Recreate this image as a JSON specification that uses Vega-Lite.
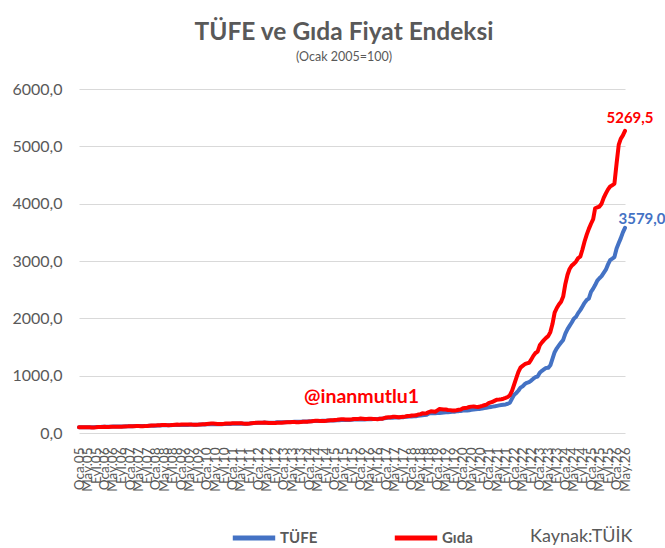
{
  "$schema": "https://vega.github.io/schema/vega-lite/v6.json",
  "description": "TÜFE ve Gıda fiyat endeksi, Ocak 2005=100",
  "autosize": "none",
  "padding": {"left": 79, "top": 89, "right": 40, "bottom": 115},
  "width": 546,
  "height": 344,
  "background": "white",
  "title": {
    "text": "TÜFE ve Gıda Fiyat Endeksi",
    "subtitle": "(Ocak 2005=100)",
    "font": "Lato",
    "fontSize": 24.5,
    "fontWeight": "bold",
    "color": "#595959",
    "subtitleFont": "Lato",
    "subtitleFontSize": 12.5,
    "subtitleColor": "#595959",
    "subtitlePadding": 5,
    "anchor": "middle",
    "dx": -8,
    "offset": 17
  },
  "data": {
    "format": {"parse": {"date": "date"}},
    "values": [
      {"date": "2005-01", "TÜFE": 100.0, "Gıda": 100.0},
      {"date": "2005-02", "TÜFE": 100.0, "Gıda": 99.3},
      {"date": "2005-03", "TÜFE": 100.3, "Gıda": 99.0},
      {"date": "2005-04", "TÜFE": 101.0, "Gıda": 100.5},
      {"date": "2005-05", "TÜFE": 101.1, "Gıda": 100.0},
      {"date": "2005-06", "TÜFE": 101.2, "Gıda": 98.6},
      {"date": "2005-07", "TÜFE": 100.6, "Gıda": 96.5},
      {"date": "2005-08", "TÜFE": 101.5, "Gıda": 97.0},
      {"date": "2005-09", "TÜFE": 102.6, "Gıda": 99.0},
      {"date": "2005-10", "TÜFE": 104.4, "Gıda": 103.5},
      {"date": "2005-11", "TÜFE": 105.9, "Gıda": 105.0},
      {"date": "2005-12", "TÜFE": 107.1, "Gıda": 105.5},
      {"date": "2006-01", "TÜFE": 108.0, "Gıda": 107.0},
      {"date": "2006-02", "TÜFE": 108.3, "Gıda": 106.5},
      {"date": "2006-03", "TÜFE": 108.5, "Gıda": 106.0},
      {"date": "2006-04", "TÜFE": 110.0, "Gıda": 108.5},
      {"date": "2006-05", "TÜFE": 111.7, "Gıda": 110.5},
      {"date": "2006-06", "TÜFE": 112.2, "Gıda": 108.8},
      {"date": "2006-07", "TÜFE": 113.3, "Gıda": 107.5},
      {"date": "2006-08", "TÜFE": 112.9, "Gıda": 107.0},
      {"date": "2006-09", "TÜFE": 114.1, "Gıda": 109.5},
      {"date": "2006-10", "TÜFE": 115.5, "Gıda": 113.0},
      {"date": "2006-11", "TÜFE": 117.1, "Gıda": 115.5},
      {"date": "2006-12", "TÜFE": 117.5, "Gıda": 116.0},
      {"date": "2007-01", "TÜFE": 118.6, "Gıda": 117.5},
      {"date": "2007-02", "TÜFE": 119.1, "Gıda": 118.0},
      {"date": "2007-03", "TÜFE": 120.4, "Gıda": 119.0},
      {"date": "2007-04", "TÜFE": 122.3, "Gıda": 121.0},
      {"date": "2007-05", "TÜFE": 122.5, "Gıda": 121.5},
      {"date": "2007-06", "TÜFE": 122.3, "Gıda": 119.5},
      {"date": "2007-07", "TÜFE": 121.3, "Gıda": 118.5},
      {"date": "2007-08", "TÜFE": 121.3, "Gıda": 120.0},
      {"date": "2007-09", "TÜFE": 122.6, "Gıda": 123.0},
      {"date": "2007-10", "TÜFE": 124.8, "Gıda": 126.5},
      {"date": "2007-11", "TÜFE": 126.8, "Gıda": 129.5},
      {"date": "2007-12", "TÜFE": 127.3, "Gıda": 129.9},
      {"date": "2008-01", "TÜFE": 128.4, "Gıda": 133.0},
      {"date": "2008-02", "TÜFE": 129.8, "Gıda": 135.0},
      {"date": "2008-03", "TÜFE": 131.0, "Gıda": 136.5},
      {"date": "2008-04", "TÜFE": 133.1, "Gıda": 140.0},
      {"date": "2008-05", "TÜFE": 135.1, "Gıda": 141.0},
      {"date": "2008-06", "TÜFE": 134.8, "Gıda": 138.5},
      {"date": "2008-07", "TÜFE": 136.6, "Gıda": 137.0},
      {"date": "2008-08", "TÜFE": 136.3, "Gıda": 137.5},
      {"date": "2008-09", "TÜFE": 137.5, "Gıda": 140.5},
      {"date": "2008-10", "TÜFE": 140.2, "Gıda": 144.5},
      {"date": "2008-11", "TÜFE": 141.6, "Gıda": 146.5},
      {"date": "2008-12", "TÜFE": 140.1, "Gıda": 145.5},
      {"date": "2009-01", "TÜFE": 140.4, "Gıda": 147.0},
      {"date": "2009-02", "TÜFE": 140.2, "Gıda": 147.5},
      {"date": "2009-03", "TÜFE": 141.6, "Gıda": 149.0},
      {"date": "2009-04", "TÜFE": 141.6, "Gıda": 149.5},
      {"date": "2009-05", "TÜFE": 143.0, "Gıda": 150.0},
      {"date": "2009-06", "TÜFE": 143.3, "Gıda": 146.5},
      {"date": "2009-07", "TÜFE": 142.9, "Gıda": 144.5},
      {"date": "2009-08", "TÜFE": 142.8, "Gıda": 144.0},
      {"date": "2009-09", "TÜFE": 144.2, "Gıda": 146.5},
      {"date": "2009-10", "TÜFE": 147.7, "Gıda": 150.0},
      {"date": "2009-11", "TÜFE": 149.6, "Gıda": 151.5},
      {"date": "2009-12", "TÜFE": 149.3, "Gıda": 151.2},
      {"date": "2010-01", "TÜFE": 151.2, "Gıda": 157.0},
      {"date": "2010-02", "TÜFE": 153.3, "Gıda": 162.0},
      {"date": "2010-03", "TÜFE": 154.3, "Gıda": 164.0},
      {"date": "2010-04", "TÜFE": 155.1, "Gıda": 164.5},
      {"date": "2010-05", "TÜFE": 154.5, "Gıda": 162.0},
      {"date": "2010-06", "TÜFE": 153.9, "Gıda": 158.5},
      {"date": "2010-07", "TÜFE": 153.2, "Gıda": 156.0},
      {"date": "2010-08", "TÜFE": 153.6, "Gıda": 157.0},
      {"date": "2010-09", "TÜFE": 155.5, "Gıda": 160.5},
      {"date": "2010-10", "TÜFE": 158.7, "Gıda": 167.0},
      {"date": "2010-11", "TÜFE": 159.0, "Gıda": 167.5},
      {"date": "2010-12", "TÜFE": 158.8, "Gıda": 167.2},
      {"date": "2011-01", "TÜFE": 159.8, "Gıda": 170.0},
      {"date": "2011-02", "TÜFE": 160.5, "Gıda": 169.5},
      {"date": "2011-03", "TÜFE": 161.2, "Gıda": 168.0},
      {"date": "2011-04", "TÜFE": 162.6, "Gıda": 168.5},
      {"date": "2011-05", "TÜFE": 165.3, "Gıda": 172.0},
      {"date": "2011-06", "TÜFE": 163.1, "Gıda": 165.0},
      {"date": "2011-07", "TÜFE": 162.3, "Gıda": 162.0},
      {"date": "2011-08", "TÜFE": 163.0, "Gıda": 163.0},
      {"date": "2011-09", "TÜFE": 164.2, "Gıda": 165.5},
      {"date": "2011-10", "TÜFE": 169.1, "Gıda": 172.0},
      {"date": "2011-11", "TÜFE": 172.2, "Gıda": 176.5},
      {"date": "2011-12", "TÜFE": 175.4, "Gıda": 177.9},
      {"date": "2012-01", "TÜFE": 176.9, "Gıda": 180.5},
      {"date": "2012-02", "TÜFE": 177.5, "Gıda": 180.0},
      {"date": "2012-03", "TÜFE": 178.8, "Gıda": 180.5},
      {"date": "2012-04", "TÜFE": 181.5, "Gıda": 183.0},
      {"date": "2012-05", "TÜFE": 180.9, "Gıda": 180.5},
      {"date": "2012-06", "TÜFE": 180.1, "Gıda": 175.5},
      {"date": "2012-07", "TÜFE": 179.3, "Gıda": 173.0},
      {"date": "2012-08", "TÜFE": 180.3, "Gıda": 174.0},
      {"date": "2012-09", "TÜFE": 181.9, "Gıda": 176.0},
      {"date": "2012-10", "TÜFE": 186.3, "Gıda": 180.0},
      {"date": "2012-11", "TÜFE": 186.9, "Gıda": 180.5},
      {"date": "2012-12", "TÜFE": 186.2, "Gıda": 179.5},
      {"date": "2013-01", "TÜFE": 188.4, "Gıda": 184.0},
      {"date": "2013-02", "TÜFE": 189.2, "Gıda": 186.0},
      {"date": "2013-03", "TÜFE": 190.3, "Gıda": 188.5},
      {"date": "2013-04", "TÜFE": 190.6, "Gıda": 188.0},
      {"date": "2013-05", "TÜFE": 193.0, "Gıda": 191.5},
      {"date": "2013-06", "TÜFE": 195.3, "Gıda": 193.0},
      {"date": "2013-07", "TÜFE": 194.7, "Gıda": 189.5},
      {"date": "2013-08", "TÜFE": 194.7, "Gıda": 188.0},
      {"date": "2013-09", "TÜFE": 195.8, "Gıda": 190.0},
      {"date": "2013-10", "TÜFE": 199.5, "Gıda": 195.0},
      {"date": "2013-11", "TÜFE": 200.3, "Gıda": 196.5},
      {"date": "2013-12", "TÜFE": 200.0, "Gıda": 196.9},
      {"date": "2014-01", "TÜFE": 203.8, "Gıda": 202.5},
      {"date": "2014-02", "TÜFE": 205.1, "Gıda": 205.0},
      {"date": "2014-03", "TÜFE": 207.2, "Gıda": 209.5},
      {"date": "2014-04", "TÜFE": 210.1, "Gıda": 213.0},
      {"date": "2014-05", "TÜFE": 210.8, "Gıda": 212.5},
      {"date": "2014-06", "TÜFE": 210.5, "Gıda": 210.0},
      {"date": "2014-07", "TÜFE": 212.1, "Gıda": 210.5},
      {"date": "2014-08", "TÜFE": 212.0, "Gıda": 210.5},
      {"date": "2014-09", "TÜFE": 213.5, "Gıda": 213.5},
      {"date": "2014-10", "TÜFE": 217.5, "Gıda": 220.0},
      {"date": "2014-11", "TÜFE": 217.8, "Gıda": 221.0},
      {"date": "2014-12", "TÜFE": 216.4, "Gıda": 221.9},
      {"date": "2015-01", "TÜFE": 218.8, "Gıda": 226.5},
      {"date": "2015-02", "TÜFE": 220.5, "Gıda": 231.0},
      {"date": "2015-03", "TÜFE": 223.1, "Gıda": 236.5},
      {"date": "2015-04", "TÜFE": 225.7, "Gıda": 239.5},
      {"date": "2015-05", "TÜFE": 227.9, "Gıda": 241.0},
      {"date": "2015-06", "TÜFE": 227.0, "Gıda": 236.0},
      {"date": "2015-07", "TÜFE": 226.9, "Gıda": 234.0},
      {"date": "2015-08", "TÜFE": 228.0, "Gıda": 236.0},
      {"date": "2015-09", "TÜFE": 230.0, "Gıda": 239.0},
      {"date": "2015-10", "TÜFE": 233.5, "Gıda": 245.0},
      {"date": "2015-11", "TÜFE": 233.8, "Gıda": 245.5},
      {"date": "2015-12", "TÜFE": 235.4, "Gıda": 246.1},
      {"date": "2016-01", "TÜFE": 238.7, "Gıda": 252.0},
      {"date": "2016-02", "TÜFE": 237.5, "Gıda": 248.5},
      {"date": "2016-03", "TÜFE": 237.6, "Gıda": 244.0},
      {"date": "2016-04", "TÜFE": 239.3, "Gıda": 242.5},
      {"date": "2016-05", "TÜFE": 240.6, "Gıda": 247.0},
      {"date": "2016-06", "TÜFE": 241.6, "Gıda": 247.0},
      {"date": "2016-07", "TÜFE": 243.5, "Gıda": 246.0},
      {"date": "2016-08", "TÜFE": 243.8, "Gıda": 243.0},
      {"date": "2016-09", "TÜFE": 244.0, "Gıda": 241.5},
      {"date": "2016-10", "TÜFE": 247.5, "Gıda": 247.0},
      {"date": "2016-11", "TÜFE": 248.8, "Gıda": 248.0},
      {"date": "2016-12", "TÜFE": 255.5, "Gıda": 260.1},
      {"date": "2017-01", "TÜFE": 262.2, "Gıda": 270.5},
      {"date": "2017-02", "TÜFE": 263.8, "Gıda": 274.5},
      {"date": "2017-03", "TÜFE": 265.0, "Gıda": 275.0},
      {"date": "2017-04", "TÜFE": 267.9, "Gıda": 281.5},
      {"date": "2017-05", "TÜFE": 271.7, "Gıda": 285.0},
      {"date": "2017-06", "TÜFE": 271.1, "Gıda": 279.5},
      {"date": "2017-07", "TÜFE": 271.6, "Gıda": 275.0},
      {"date": "2017-08", "TÜFE": 274.0, "Gıda": 278.0},
      {"date": "2017-09", "TÜFE": 276.0, "Gıda": 281.5},
      {"date": "2017-10", "TÜFE": 281.1, "Gıda": 288.5},
      {"date": "2017-11", "TÜFE": 285.5, "Gıda": 297.0},
      {"date": "2017-12", "TÜFE": 286.0, "Gıda": 296.0},
      {"date": "2018-01", "TÜFE": 289.6, "Gıda": 304.0},
      {"date": "2018-02", "TÜFE": 290.5, "Gıda": 306.5},
      {"date": "2018-03", "TÜFE": 293.4, "Gıda": 309.0},
      {"date": "2018-04", "TÜFE": 298.4, "Gıda": 322.0},
      {"date": "2018-05", "TÜFE": 303.0, "Gıda": 325.0},
      {"date": "2018-06", "TÜFE": 310.2, "Gıda": 343.0},
      {"date": "2018-07", "TÜFE": 312.1, "Gıda": 342.0},
      {"date": "2018-08", "TÜFE": 319.2, "Gıda": 346.0},
      {"date": "2018-09", "TÜFE": 340.6, "Gıda": 364.0},
      {"date": "2018-10", "TÜFE": 349.7, "Gıda": 378.0},
      {"date": "2018-11", "TÜFE": 344.7, "Gıda": 374.0},
      {"date": "2018-12", "TÜFE": 344.0, "Gıda": 370.3},
      {"date": "2019-01", "TÜFE": 347.5, "Gıda": 394.0},
      {"date": "2019-02", "TÜFE": 348.3, "Gıda": 418.0},
      {"date": "2019-03", "TÜFE": 352.2, "Gıda": 415.0},
      {"date": "2019-04", "TÜFE": 358.2, "Gıda": 411.0},
      {"date": "2019-05", "TÜFE": 363.3, "Gıda": 410.0},
      {"date": "2019-06", "TÜFE": 363.3, "Gıda": 402.0},
      {"date": "2019-07", "TÜFE": 367.0, "Gıda": 399.0},
      {"date": "2019-08", "TÜFE": 370.5, "Gıda": 393.0},
      {"date": "2019-09", "TÜFE": 371.8, "Gıda": 392.0},
      {"date": "2019-10", "TÜFE": 379.8, "Gıda": 397.0},
      {"date": "2019-11", "TÜFE": 381.4, "Gıda": 405.0},
      {"date": "2019-12", "TÜFE": 384.7, "Gıda": 410.7},
      {"date": "2020-01", "TÜFE": 390.4, "Gıda": 431.0},
      {"date": "2020-02", "TÜFE": 391.9, "Gıda": 437.0},
      {"date": "2020-03", "TÜFE": 394.1, "Gıda": 442.0},
      {"date": "2020-04", "TÜFE": 397.4, "Gıda": 453.0},
      {"date": "2020-05", "TÜFE": 403.2, "Gıda": 460.0},
      {"date": "2020-06", "TÜFE": 408.1, "Gıda": 462.0},
      {"date": "2020-07", "TÜFE": 412.8, "Gıda": 458.0},
      {"date": "2020-08", "TÜFE": 416.5, "Gıda": 455.0},
      {"date": "2020-09", "TÜFE": 420.4, "Gıda": 462.0},
      {"date": "2020-10", "TÜFE": 427.4, "Gıda": 472.0},
      {"date": "2020-11", "TÜFE": 435.5, "Gıda": 484.0},
      {"date": "2020-12", "TÜFE": 440.9, "Gıda": 495.3},
      {"date": "2021-01", "TÜFE": 449.2, "Gıda": 520.0},
      {"date": "2021-02", "TÜFE": 455.0, "Gıda": 535.0},
      {"date": "2021-03", "TÜFE": 460.3, "Gıda": 545.0},
      {"date": "2021-04", "TÜFE": 466.4, "Gıda": 565.0},
      {"date": "2021-05", "TÜFE": 473.5, "Gıda": 582.0},
      {"date": "2021-06", "TÜFE": 481.5, "Gıda": 585.0},
      {"date": "2021-07", "TÜFE": 487.1, "Gıda": 590.0},
      {"date": "2021-08", "TÜFE": 492.6, "Gıda": 598.0},
      {"date": "2021-09", "TÜFE": 498.3, "Gıda": 612.0},
      {"date": "2021-10", "TÜFE": 510.4, "Gıda": 628.0},
      {"date": "2021-11", "TÜFE": 528.3, "Gıda": 660.0},
      {"date": "2021-12", "TÜFE": 600.0, "Gıda": 735.0},
      {"date": "2022-01", "TÜFE": 666.6, "Gıda": 850.0},
      {"date": "2022-02", "TÜFE": 698.7, "Gıda": 960.0},
      {"date": "2022-03", "TÜFE": 736.8, "Gıda": 1060.0},
      {"date": "2022-04", "TÜFE": 790.3, "Gıda": 1140.0},
      {"date": "2022-05", "TÜFE": 813.9, "Gıda": 1170.0},
      {"date": "2022-06", "TÜFE": 854.1, "Gıda": 1200.0},
      {"date": "2022-07", "TÜFE": 874.3, "Gıda": 1215.0},
      {"date": "2022-08", "TÜFE": 887.2, "Gıda": 1225.0},
      {"date": "2022-09", "TÜFE": 914.4, "Gıda": 1280.0},
      {"date": "2022-10", "TÜFE": 946.8, "Gıda": 1345.0},
      {"date": "2022-11", "TÜFE": 974.1, "Gıda": 1395.0},
      {"date": "2022-12", "TÜFE": 985.7, "Gıda": 1420.0},
      {"date": "2023-01", "TÜFE": 1051.2, "Gıda": 1530.0},
      {"date": "2023-02", "TÜFE": 1084.2, "Gıda": 1580.0},
      {"date": "2023-03", "TÜFE": 1109.1, "Gıda": 1620.0},
      {"date": "2023-04", "TÜFE": 1135.6, "Gıda": 1660.0},
      {"date": "2023-05", "TÜFE": 1136.0, "Gıda": 1690.0},
      {"date": "2023-06", "TÜFE": 1180.5, "Gıda": 1760.0},
      {"date": "2023-07", "TÜFE": 1292.6, "Gıda": 1900.0},
      {"date": "2023-08", "TÜFE": 1410.0, "Gıda": 2100.0},
      {"date": "2023-09", "TÜFE": 1477.0, "Gıda": 2180.0},
      {"date": "2023-10", "TÜFE": 1527.6, "Gıda": 2240.0},
      {"date": "2023-11", "TÜFE": 1577.9, "Gıda": 2290.0},
      {"date": "2023-12", "TÜFE": 1624.1, "Gıda": 2380.0},
      {"date": "2024-01", "TÜFE": 1732.9, "Gıda": 2600.0},
      {"date": "2024-02", "TÜFE": 1811.4, "Gıda": 2760.0},
      {"date": "2024-03", "TÜFE": 1868.7, "Gıda": 2860.0},
      {"date": "2024-04", "TÜFE": 1928.1, "Gıda": 2920.0},
      {"date": "2024-05", "TÜFE": 1993.1, "Gıda": 2950.0},
      {"date": "2024-06", "TÜFE": 2025.8, "Gıda": 2990.0},
      {"date": "2024-07", "TÜFE": 2091.2, "Gıda": 3050.0},
      {"date": "2024-08", "TÜFE": 2142.9, "Gıda": 3075.0},
      {"date": "2024-09", "TÜFE": 2206.5, "Gıda": 3200.0},
      {"date": "2024-10", "TÜFE": 2270.1, "Gıda": 3340.0},
      {"date": "2024-11", "TÜFE": 2320.9, "Gıda": 3460.0},
      {"date": "2024-12", "TÜFE": 2344.8, "Gıda": 3560.0},
      {"date": "2025-01", "TÜFE": 2462.7, "Gıda": 3650.0},
      {"date": "2025-02", "TÜFE": 2518.6, "Gıda": 3730.0},
      {"date": "2025-03", "TÜFE": 2580.6, "Gıda": 3920.0},
      {"date": "2025-04", "TÜFE": 2658.0, "Gıda": 3935.0},
      {"date": "2025-05", "TÜFE": 2698.7, "Gıda": 3950.0},
      {"date": "2025-06", "TÜFE": 2735.7, "Gıda": 4000.0},
      {"date": "2025-07", "TÜFE": 2792.0, "Gıda": 4100.0},
      {"date": "2025-08", "TÜFE": 2849.0, "Gıda": 4180.0},
      {"date": "2025-09", "TÜFE": 2941.0, "Gıda": 4250.0},
      {"date": "2025-10", "TÜFE": 3016.0, "Gıda": 4300.0},
      {"date": "2025-11", "TÜFE": 3042.2, "Gıda": 4320.0},
      {"date": "2025-12", "TÜFE": 3069.3, "Gıda": 4350.0},
      {"date": "2026-01", "TÜFE": 3217.9, "Gıda": 4700.0},
      {"date": "2026-02", "TÜFE": 3313.2, "Gıda": 5030.0},
      {"date": "2026-03", "TÜFE": 3395.0, "Gıda": 5130.0},
      {"date": "2026-04", "TÜFE": 3500.0, "Gıda": 5190.0},
      {"date": "2026-05", "TÜFE": 3579.0, "Gıda": 5269.5}
    ]
  },
  "transform": [
    {"fold": ["TÜFE", "Gıda"], "as": ["seri", "deger"]},
    {"joinaggregate": [{"op": "max", "field": "date", "as": "son"}]},
    {"calculate": "replace(format(datum.deger, '.1f'), '.', ',')", "as": "etiket"}
  ],
  "encoding": {
    "x": {
      "field": "date",
      "type": "temporal",
      "scale": {"type": "utc", "nice": false},
      "axis": {
        "tickCount": {"interval": "month", "step": 4},
        "labelExpr": "['Oca','Şub','Mar','Nis','May','Haz','Tem','Ağu','Eyl','Eki','Kas','Ara'][utcmonth(datum.value)] + '.' + utcFormat(datum.value, '%y')",
        "labelAngle": 270,
        "labelAlign": "right",
        "labelBaseline": "middle",
        "labelFont": "Lato",
        "labelFontSize": 13.5,
        "labelColor": "#595959",
        "labelOverlap": false,
        "labelBound": false,
        "labelFlush": false,
        "labelPadding": 14,
        "ticks": false,
        "domain": false,
        "grid": false,
        "title": "Kaynak:TÜİK",
        "titleFont": "Lato",
        "titleFontSize": 18,
        "titleFontWeight": "normal",
        "titleColor": "#595959",
        "titleAlign": "right",
        "titleBaseline": "middle",
        "titleX": 553,
        "titleY": 103
      }
    },
    "y": {
      "field": "deger",
      "type": "quantitative",
      "scale": {"domain": [0, 6000], "nice": false},
      "axis": {
        "values": [0, 1000, 2000, 3000, 4000, 5000, 6000],
        "labelExpr": "replace(format(datum.value, '.1f'), '.', ',')",
        "labelFont": "Lato",
        "labelFontSize": 16,
        "labelColor": "#595959",
        "labelPadding": 17,
        "ticks": false,
        "domain": false,
        "grid": true,
        "gridColor": "#d9d9d9",
        "gridWidth": 1.2,
        "title": null
      }
    },
    "color": {
      "field": "seri",
      "type": "nominal",
      "scale": {"domain": ["TÜFE", "Gıda"], "range": ["#4472C4", "#FF0000"]},
      "legend": {
        "orient": "none",
        "direction": "horizontal",
        "legendX": 151,
        "legendY": 425,
        "title": null,
        "symbolType": "stroke",
        "symbolSize": 1800,
        "symbolStrokeWidth": 5,
        "labelFont": "Lato",
        "labelFontSize": 15,
        "labelFontWeight": "bold",
        "labelColor": "#595959",
        "labelOffset": 2,
        "columnPadding": 66
      }
    }
  },
  "layer": [
    {
      "mark": {"type": "line", "strokeWidth": 4, "strokeCap": "round", "strokeJoin": "round"}
    },
    {
      "transform": [{"filter": "time(datum.date) == time(datum.son) && datum.seri == 'Gıda'"}],
      "mark": {"type": "text", "font": "Lato", "fontSize": 15, "fontWeight": "bold", "dx": 5, "dy": -13, "align": "center", "baseline": "middle"},
      "encoding": {
        "text": {"field": "etiket", "type": "nominal"}
      }
    },
    {
      "transform": [{"filter": "time(datum.date) == time(datum.son) && datum.seri == 'TÜFE'"}],
      "mark": {"type": "text", "font": "Lato", "fontSize": 15, "fontWeight": "bold", "dx": 17, "dy": -9, "align": "center", "baseline": "middle"},
      "encoding": {
        "text": {"field": "etiket", "type": "nominal"}
      }
    },
    {
      "transform": [{"filter": "time(datum.date) == time(datum.son) && datum.seri == 'Gıda'"}],
      "mark": {"type": "text", "text": "@inanmutlu1", "font": "Lato", "fontSize": 19.5, "fontWeight": "bold", "align": "center", "baseline": "middle"},
      "encoding": {
        "x": {"datum": {"year": 2016, "month": 1, "date": 15, "utc": true}, "type": "temporal"},
        "y": {"datum": 630, "type": "quantitative"},
        "color": {"value": "#FF0000"}
      }
    }
  ],
  "config": {
    "view": {"stroke": null}
  }
}
